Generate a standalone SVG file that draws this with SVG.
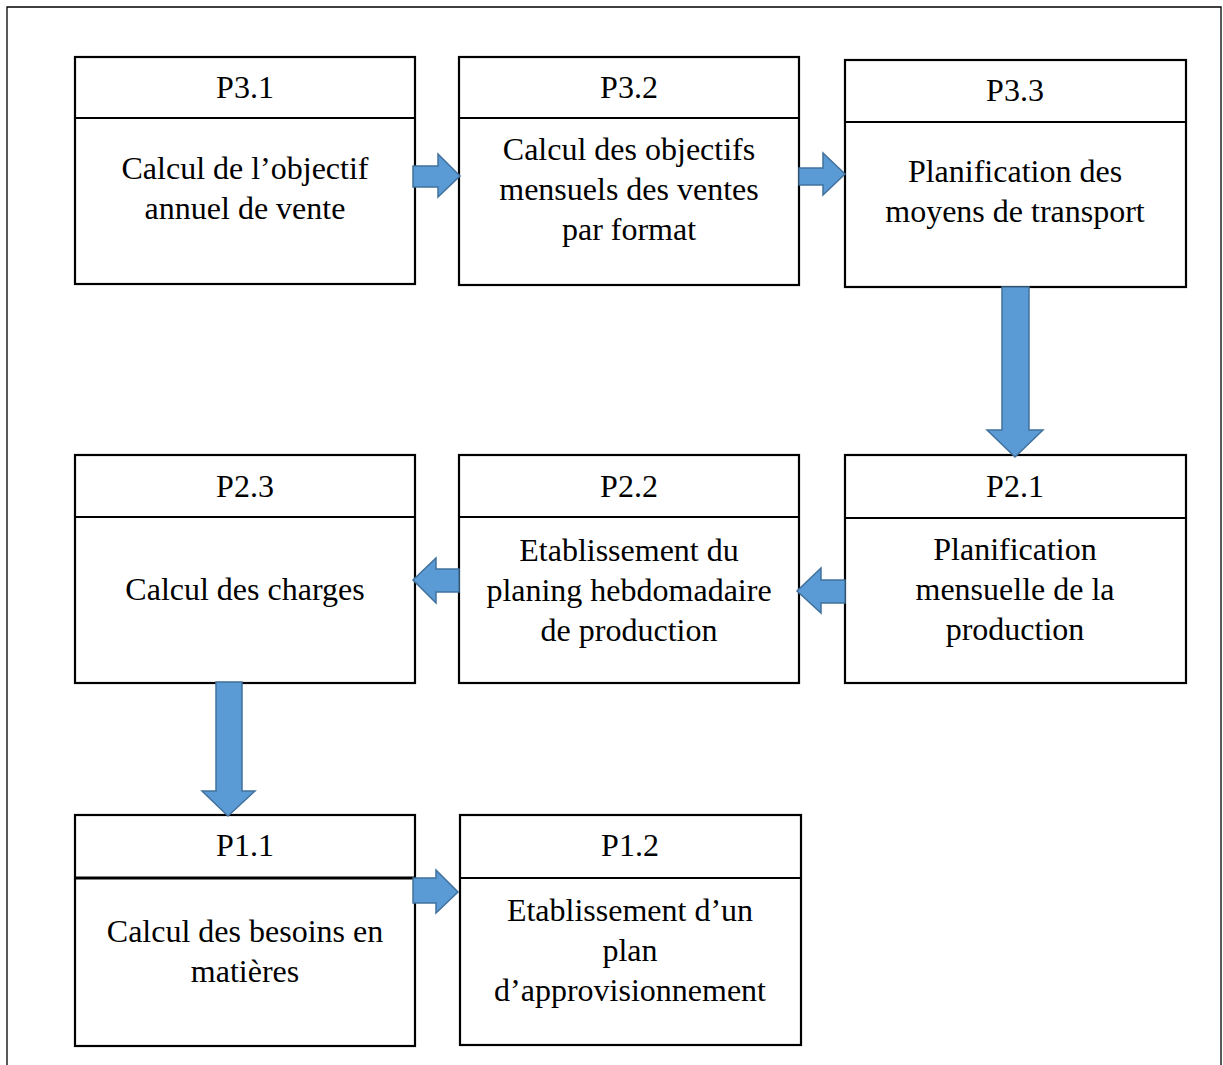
<svg xmlns="http://www.w3.org/2000/svg" width="1223" height="1065" viewBox="0 0 1223 1065">
  <style>
    .frame { fill: none; stroke: #000; stroke-width: 1.3; }
    .box { fill: #fff; stroke: #000; stroke-width: 2.2; }
    .sep { stroke: #000; stroke-width: 2.2; }
    .sep-thick { stroke: #000; stroke-width: 3; }
    .lbl { font-family: "Liberation Serif", "Times New Roman", serif; font-size: 32px; fill: #000; text-anchor: middle; }
    .arrow { fill: #5B9BD5; stroke: #41719C; stroke-width: 1.5; stroke-linejoin: miter; }
  </style>

  <rect width="1223" height="1065" fill="#fff"/>
  <!-- surrounding frame, open at the bottom -->
  <path class="frame" d="M7,1070 V7 H1221 V1070"/>

  <!-- row 1 -->
  <g id="P3.1">
    <rect class="box" x="75" y="57" width="340" height="227"/>
    <line class="sep" x1="75" y1="118" x2="415" y2="118"/>
    <text class="lbl" x="245" y="98">P3.1</text>
    <text class="lbl" x="245" y="179">Calcul de l’objectif</text>
    <text class="lbl" x="245" y="219">annuel de vente</text>
  </g>
  <g id="P3.2">
    <rect class="box" x="459" y="57" width="340" height="228"/>
    <line class="sep" x1="459" y1="118" x2="799" y2="118"/>
    <text class="lbl" x="629" y="98">P3.2</text>
    <text class="lbl" x="629" y="160">Calcul des objectifs</text>
    <text class="lbl" x="629" y="200">mensuels des ventes</text>
    <text class="lbl" x="629" y="240">par format</text>
  </g>
  <g id="P3.3">
    <rect class="box" x="845" y="60" width="341" height="227"/>
    <line class="sep" x1="845" y1="122" x2="1186" y2="122"/>
    <text class="lbl" x="1015" y="101">P3.3</text>
    <text class="lbl" x="1015" y="182">Planification des</text>
    <text class="lbl" x="1015" y="222">moyens de transport</text>
  </g>

  <!-- row 2 -->
  <g id="P2.3">
    <rect class="box" x="75" y="455" width="340" height="228"/>
    <line class="sep" x1="75" y1="517" x2="415" y2="517"/>
    <text class="lbl" x="245" y="497">P2.3</text>
    <text class="lbl" x="245" y="600">Calcul des charges</text>
  </g>
  <g id="P2.2">
    <rect class="box" x="459" y="455" width="340" height="228"/>
    <line class="sep" x1="459" y1="517" x2="799" y2="517"/>
    <text class="lbl" x="629" y="497">P2.2</text>
    <text class="lbl" x="629" y="561">Etablissement du</text>
    <text class="lbl" x="629" y="601">planing hebdomadaire</text>
    <text class="lbl" x="629" y="641">de production</text>
  </g>
  <g id="P2.1">
    <rect class="box" x="845" y="455" width="341" height="228"/>
    <line class="sep" x1="845" y1="518" x2="1186" y2="518"/>
    <text class="lbl" x="1015" y="497">P2.1</text>
    <text class="lbl" x="1015" y="560">Planification</text>
    <text class="lbl" x="1015" y="600">mensuelle de la</text>
    <text class="lbl" x="1015" y="640">production</text>
  </g>

  <!-- row 3 -->
  <g id="P1.1">
    <rect class="box" x="75" y="815" width="340" height="231"/>
    <line class="sep-thick" x1="75" y1="878" x2="415" y2="878"/>
    <text class="lbl" x="245" y="856">P1.1</text>
    <text class="lbl" x="245" y="942">Calcul des besoins en</text>
    <text class="lbl" x="245" y="982">matières</text>
  </g>
  <g id="P1.2">
    <rect class="box" x="460" y="815" width="341" height="230"/>
    <line class="sep" x1="460" y1="878" x2="801" y2="878"/>
    <text class="lbl" x="630" y="856">P1.2</text>
    <text class="lbl" x="630" y="921">Etablissement d’un</text>
    <text class="lbl" x="630" y="961">plan</text>
    <text class="lbl" x="630" y="1001">d’approvisionnement</text>
  </g>

  <!-- block arrows between the steps -->
  <g id="connectors">
    <polygon class="arrow" points="413,166 438,166 438,154 460,176 438,197 438,187 413,187"/>
    <polygon class="arrow" points="799,168 823,168 823,153 845,174 823,195 823,185 799,185"/>
    <polygon class="arrow" points="1002,287 1029,287 1029,430 1043,430 1015,457 987,430 1002,430"/>
    <polygon class="arrow" points="845,580 821,580 821,568 797,591 821,613 821,603 845,603"/>
    <polygon class="arrow" points="459,569 436,569 436,558 413,580 436,603 436,592 459,592"/>
    <polygon class="arrow" points="216,682 242,682 242,791 255,791 228,816 202,791 216,791"/>
    <polygon class="arrow" points="413,878 436,878 436,870 458,892 436,913 436,903 413,903"/>
  </g>
</svg>
